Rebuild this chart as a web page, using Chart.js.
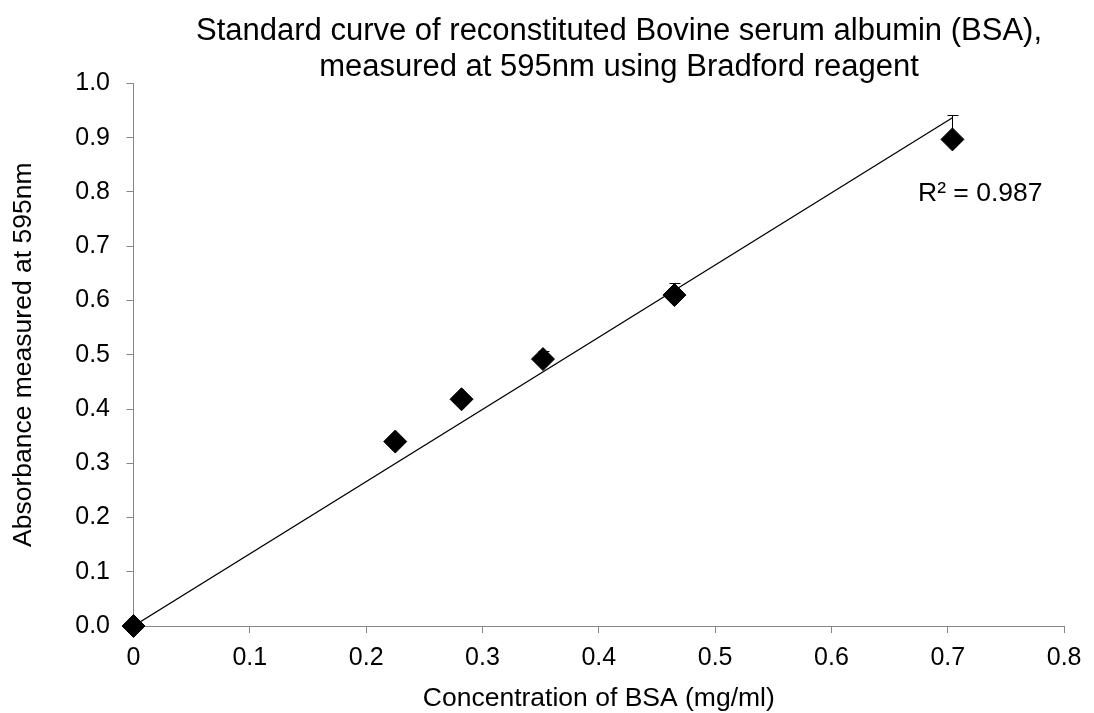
<!DOCTYPE html>
<html>
<head>
<meta charset="utf-8">
<script src="https://cdn.jsdelivr.net/npm/chart.js@4"></script>
<style>
body { margin: 0; background: #fff; }
</style>
</head>
<body>
<canvas id="myChart" width="1094" height="713"></canvas>
<script>
// data
var concentration = [0, 0.225, 0.282, 0.352, 0.465, 0.704];
var absorbance = [0, 0.340, 0.418, 0.492, 0.610, 0.897];
var errorPlus = [0, 0.004, 0.004, 0.014, 0.022, 0.045];
var trendX = [0, 0.704];
var trendY = [0, 0.937];
var xTickValues = [0, 0.1, 0.2, 0.3, 0.4, 0.5, 0.6, 0.7, 0.8];
var xTickLabels = ["0", "0.1", "0.2", "0.3", "0.4", "0.5", "0.6", "0.7", "0.8"];
var yTickValues = [0, 0.1, 0.2, 0.3, 0.4, 0.5, 0.6, 0.7, 0.8, 0.9, 1.0];
var yTickLabels = ["0.0", "0.1", "0.2", "0.3", "0.4", "0.5", "0.6", "0.7", "0.8", "0.9", "1.0"];
var titleLines = ["Standard curve of reconstituted Bovine serum albumin (BSA),",
                  "measured at 595nm using Bradford reagent"];
var rSquaredText = "R\u00b2 = 0.987";

var FONT = "'Liberation Sans', Arial, sans-serif";
var AXIS_GREY = "#868686";

function points(xs, ys) {
    var out = [];
    for (var i = 0; i < xs.length; i++) out.push({x: xs[i], y: ys[i]});
    return out;
}

// plus-direction error bars, Excel style
var errorBars = {
    id: "errorBars",
    beforeDatasetsDraw: function(chart) {
        var c = chart.ctx, xs = chart.scales.x, ys = chart.scales.y;
        c.save();
        c.strokeStyle = "#000";
        c.lineWidth = 1;
        for (var i = 0; i < concentration.length; i++) {
            if (!errorPlus[i]) continue;
            var px = Math.round(xs.getPixelForValue(concentration[i])) + 0.5;
            var y0 = ys.getPixelForValue(absorbance[i]);
            var y1 = Math.round(ys.getPixelForValue(absorbance[i] + errorPlus[i])) + 0.5;
            c.beginPath();
            c.moveTo(px, y0);
            c.lineTo(px, y1);
            c.moveTo(px - 5, y1);
            c.lineTo(px + 6, y1);
            c.stroke();
        }
        c.restore();
    }
};

// two-line title and the R squared label
var labels = {
    id: "labels",
    afterDraw: function(chart) {
        var c = chart.ctx;
        c.save();
        c.fillStyle = "#000";
        c.textAlign = "center";
        c.textBaseline = "alphabetic";
        c.font = "31px " + FONT;
        c.fillText(titleLines[0], 619, 40);
        c.fillText(titleLines[1], 619, 76);
        c.textAlign = "left";
        c.font = "26.5px " + FONT;
        c.fillText(rSquaredText, 918, 201);
        c.restore();
    }
};

var ctx = document.getElementById("myChart");
var myChart = new Chart(ctx, {
    type: "scatter",
    data: {
        datasets: [
            {
                label: "Absorbance",
                data: points(concentration, absorbance),
                pointStyle: "rectRot",
                pointRadius: 11.5,
                pointHoverRadius: 11.5,
                backgroundColor: "#000",
                borderColor: "#000",
                borderWidth: 1,
                clip: false,
                order: 1
            },
            {
                label: "Linear trend",
                data: points(trendX, trendY),
                showLine: true,
                pointRadius: 0,
                borderColor: "#000",
                borderWidth: 1.3,
                fill: false,
                order: 0
            }
        ]
    },
    options: {
        responsive: false,
        animation: false,
        devicePixelRatio: 1,
        layout: { padding: { top: 83.5, right: 21, bottom: 0, left: 0 } },
        plugins: {
            legend: { display: false },
            title: { display: false },
            tooltip: { enabled: false }
        },
        scales: {
            x: {
                type: "linear",
                min: 0,
                max: 0.8,
                afterFit: function(s) { s.height = 87; },
                afterBuildTicks: function(s) {
                    s.ticks = xTickValues.map(function(v) { return {value: v}; });
                },
                ticks: {
                    color: "#000",
                    font: { family: FONT, size: 25, lineHeight: 1 },
                    padding: 12.5,
                    maxRotation: 0,
                    callback: function(v, i) { return xTickLabels[i]; }
                },
                grid: { drawOnChartArea: false, tickLength: 7, color: AXIS_GREY },
                border: { color: AXIS_GREY, width: 1 },
                title: {
                    display: true,
                    text: "Concentration of BSA (mg/ml)",
                    color: "#000",
                    font: { family: FONT, size: 26.5, lineHeight: 1 },
                    padding: { top: 0, bottom: 1.5 }
                }
            },
            y: {
                type: "linear",
                min: 0,
                max: 1.0,
                afterFit: function(s) { s.width = 133.5; },
                afterBuildTicks: function(s) {
                    s.ticks = yTickValues.map(function(v) { return {value: v}; });
                },
                ticks: {
                    color: "#000",
                    font: { family: FONT, size: 25, lineHeight: 1 },
                    padding: 16.5,
                    callback: function(v, i) { return yTickLabels[i]; }
                },
                grid: { drawOnChartArea: false, tickLength: 7, color: AXIS_GREY },
                border: { color: AXIS_GREY, width: 1 },
                title: {
                    display: true,
                    text: "Absorbance measured at 595nm",
                    color: "#000",
                    font: { family: FONT, size: 26.5, lineHeight: 1 },
                    padding: { top: 10.5, bottom: 0 }
                }
            }
        }
    },
    plugins: [errorBars, labels]
});
</script>
</body>
</html>
